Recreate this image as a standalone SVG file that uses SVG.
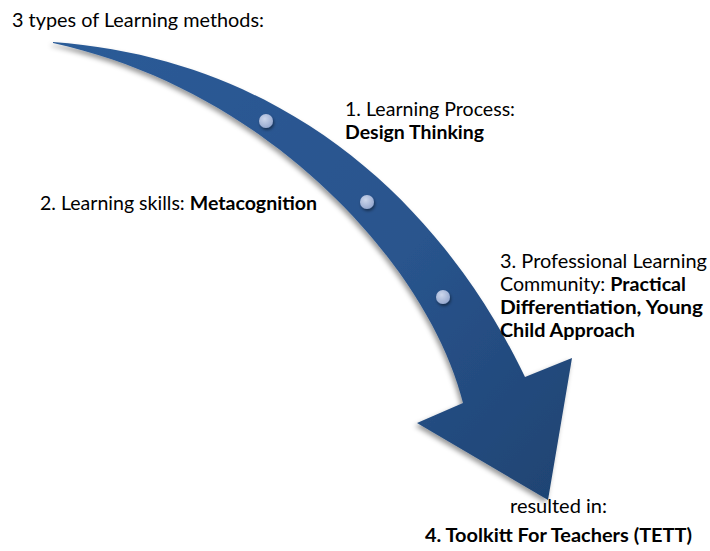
<svg xmlns="http://www.w3.org/2000/svg" width="710" height="551" viewBox="0 0 710 551">
  <style>
    .t { font-family: Lato, "Liberation Sans", sans-serif; font-size: 19px; fill: #000; }
    .b { font-weight: bold; }
  </style>
  <defs>
    <linearGradient id="arrowFill" gradientUnits="userSpaceOnUse" x1="53" y1="42" x2="548" y2="500">
      <stop offset="0" stop-color="#2c5b97"/>
      <stop offset="0.6" stop-color="#29548d"/>
      <stop offset="1" stop-color="#1f4473"/>
    </linearGradient>
    <radialGradient id="dotFill" cx="0.4" cy="0.35" r="0.7">
      <stop offset="0" stop-color="#cdd7ec"/>
      <stop offset="1" stop-color="#93a6cd"/>
    </radialGradient>
    <filter id="shadow" x="-10%" y="-10%" width="120%" height="120%">
      <feGaussianBlur in="SourceAlpha" stdDeviation="2.5"/>
      <feOffset dx="-2" dy="3" result="blur"/>
      <feFlood flood-color="#000" flood-opacity="0.4"/>
      <feComposite in2="blur" operator="in"/>
      <feMerge>
        <feMergeNode/>
        <feMergeNode in="SourceGraphic"/>
      </feMerge>
    </filter>
    <filter id="dotShadow" x="-50%" y="-50%" width="200%" height="200%">
      <feGaussianBlur in="SourceAlpha" stdDeviation="1.5"/>
      <feOffset dx="1" dy="2" result="blur"/>
      <feFlood flood-color="#000" flood-opacity="0.45"/>
      <feComposite in2="blur" operator="in"/>
      <feMerge>
        <feMergeNode/>
        <feMergeNode in="SourceGraphic"/>
      </feMerge>
    </filter>
  </defs>

  <rect width="710" height="551" fill="#fff"/>

  <!-- heading -->
  <g id="title">
    <text class="t" x="12" y="27" textLength="252" lengthAdjust="spacingAndGlyphs">3 types of Learning methods:</text>
  </g>

  <!-- curved arrow carrying the three steps -->
  <g id="connectors">
    <path id="flow-arrow" fill="url(#arrowFill)" filter="url(#shadow)"
          d="M53,42 C300,60 450,220 525,377 L572,358 L548,500 L417,423 L463,403 C430,270 273,91 53,43 Z"/>
  </g>

  <!-- step 1 -->
  <g id="node-1">
    <circle cx="266" cy="121" r="7" fill="url(#dotFill)" filter="url(#dotShadow)"/>
    <text class="t" x="345" y="116" textLength="170" lengthAdjust="spacingAndGlyphs">1. Learning Process:</text>
    <text class="t b" x="345" y="139" textLength="139" lengthAdjust="spacingAndGlyphs">Design Thinking</text>
  </g>

  <!-- step 2 -->
  <g id="node-2">
    <circle cx="367" cy="202" r="7" fill="url(#dotFill)" filter="url(#dotShadow)"/>
    <text class="t" x="40" y="210" textLength="277" lengthAdjust="spacingAndGlyphs">2. Learning skills: <tspan class="b">Metacognition</tspan></text>
  </g>

  <!-- step 3 -->
  <g id="node-3">
    <circle cx="443" cy="297" r="7" fill="url(#dotFill)" filter="url(#dotShadow)"/>
    <text class="t" x="500" y="268" textLength="207" lengthAdjust="spacingAndGlyphs">3. Professional Learning</text>
    <text class="t" x="500" y="291" textLength="186" lengthAdjust="spacingAndGlyphs">Community: <tspan class="b">Practical</tspan></text>
    <text class="t b" x="500" y="314" textLength="203" lengthAdjust="spacingAndGlyphs">Differentiation, Young</text>
    <text class="t b" x="500" y="337" textLength="135" lengthAdjust="spacingAndGlyphs">Child Approach</text>
  </g>

  <!-- outcome -->
  <g id="node-4">
    <text class="t" x="510" y="513" textLength="97" lengthAdjust="spacingAndGlyphs">resulted in:</text>
    <text class="t b" x="425" y="542" textLength="267" lengthAdjust="spacingAndGlyphs">4. Toolkitt For Teachers (TETT)</text>
  </g>
</svg>
